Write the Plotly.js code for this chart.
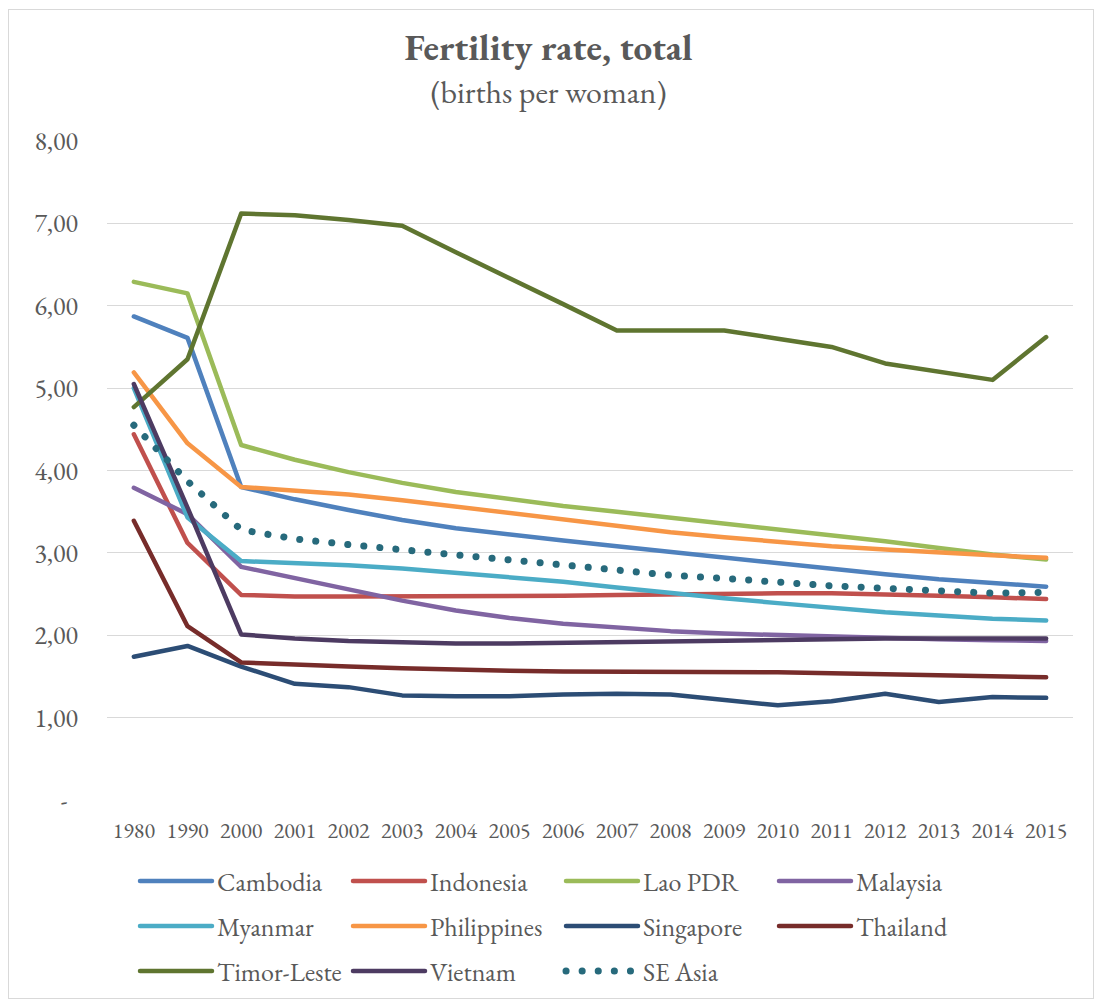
<!DOCTYPE html>
<html>
<head>
<meta charset="utf-8">
<script src="https://cdn.plot.ly/plotly-3.0.1.min.js"></script>
<style>
  html, body { margin: 0; padding: 0; background: #ffffff; }
  #frame { position: absolute; left: 8px; top: 9px; width: 1086px; height: 990px; border: 1px solid #d9d9d9; box-sizing: border-box; }
  #chart { position: absolute; left: 0; top: 0; width: 1097px; height: 1001px; }
  .js-line, .legendlines path { stroke-linecap: round; stroke-linejoin: round; }
</style>
</head>
<body>
<div id="frame"></div>
<div id="chart"></div>
<script>
// Years on the category axis
const years = ['1980','1990','2000','2001','2002','2003','2004','2005','2006','2007','2008','2009','2010','2011','2012','2013','2014','2015'];

// Total fertility rate (births per woman)
const cambodia    = [5.87,5.61,3.80,3.65,3.52,3.40,3.30,3.22,3.15,3.08,3.01,2.94,2.87,2.80,2.74,2.68,2.63,2.59];
const indonesia   = [4.44,3.12,2.49,2.47,2.47,2.47,2.47,2.48,2.48,2.49,2.50,2.51,2.51,2.51,2.50,2.48,2.46,2.44];
const laoPDR      = [6.29,6.15,4.31,4.13,3.98,3.85,3.74,3.65,3.57,3.50,3.43,3.36,3.29,3.21,3.14,3.06,2.98,2.92];
const malaysia    = [3.79,3.47,2.83,2.69,2.55,2.42,2.30,2.21,2.14,2.09,2.05,2.02,2.00,1.98,1.96,1.95,1.94,1.93];
const myanmar     = [5.00,3.43,2.90,2.88,2.85,2.81,2.76,2.71,2.65,2.58,2.51,2.45,2.39,2.33,2.28,2.24,2.20,2.18];
const philippines = [5.19,4.33,3.80,3.76,3.71,3.64,3.56,3.48,3.40,3.32,3.25,3.19,3.13,3.08,3.04,3.00,2.97,2.94];
const singapore   = [1.74,1.87,1.62,1.41,1.37,1.27,1.26,1.26,1.28,1.29,1.28,1.22,1.15,1.20,1.29,1.19,1.25,1.24];
const thailand    = [3.39,2.11,1.67,1.64,1.62,1.60,1.58,1.57,1.56,1.56,1.55,1.55,1.55,1.54,1.53,1.52,1.51,1.49];
const timorLeste  = [4.77,5.35,7.12,7.10,7.04,6.97,6.65,6.34,6.02,5.70,5.70,5.70,5.60,5.50,5.30,5.20,5.10,5.62];
const vietnam     = [5.05,3.55,2.01,1.96,1.93,1.91,1.90,1.90,1.91,1.92,1.93,1.94,1.95,1.96,1.96,1.96,1.96,1.96];
const seAsia      = [4.55,3.87,3.28,3.17,3.10,3.04,2.97,2.90,2.84,2.78,2.73,2.69,2.64,2.60,2.57,2.53,2.51,2.52];

// Y axis tick labels
const yTickVals = [0,1,2,3,4,5,6,7,8];
const yTickText = ['-\u00a0\u00a0','1,00','2,00','3,00','4,00','5,00','6,00','7,00','8,00'];

const FONT = 'Garamond, "EB Garamond", "Liberation Serif", "DejaVu Serif", serif';
const GREY = '#595959';

const seriesDefs = [
  { name: 'Cambodia',    y: cambodia,    color: '#4F81BD', legend: 'legend'  },
  { name: 'Indonesia',   y: indonesia,   color: '#C0504D', legend: 'legend'  },
  { name: 'Lao PDR',     y: laoPDR,      color: '#9BBB59', legend: 'legend'  },
  { name: 'Malaysia',    y: malaysia,    color: '#8064A2', legend: 'legend'  },
  { name: 'Myanmar',     y: myanmar,     color: '#4BACC6', legend: 'legend2' },
  { name: 'Philippines', y: philippines, color: '#F79646', legend: 'legend2' },
  { name: 'Singapore',   y: singapore,   color: '#2C4D75', legend: 'legend2' },
  { name: 'Thailand',    y: thailand,    color: '#772C2A', legend: 'legend2' },
  { name: 'Timor-Leste', y: timorLeste,  color: '#5F7530', legend: 'legend3' },
  { name: 'Vietnam',     y: vietnam,     color: '#4D3B62', legend: 'legend3' },
  { name: 'SE Asia',     y: seAsia,      color: '#276A7C', legend: 'legend3', dash: '0.1px,16px' }
];

const traces = seriesDefs.map(s => ({
  type: 'scatter',
  mode: 'lines',
  x: years,
  y: s.y,
  name: s.name,
  legend: s.legend,
  line: { color: s.color, width: s.dash ? 7 : 4.5, dash: s.dash || 'solid' },
  hoverinfo: 'x+y+name'
}));

// One legend per row, placed in container coordinates
function legendRow(yPx) {
  return {
    orientation: 'h',
    xref: 'container', x: 135 / 1097, xanchor: 'left',
    yref: 'container', y: (1001 - yPx) / 1001, yanchor: 'middle',
    entrywidth: 126, entrywidthmode: 'pixels',
    itemwidth: 72,
    font: { family: FONT, size: 26, color: GREY },
    bgcolor: 'rgba(0,0,0,0)',
    traceorder: 'normal'
  };
}

const layout = {
  width: 1097,
  height: 1001,
  paper_bgcolor: 'rgba(0,0,0,0)',
  plot_bgcolor: 'rgba(0,0,0,0)',
  margin: { l: 107, r: 24, t: 141, b: 201 },
  font: { family: FONT, color: GREY },
  title: {
    text: '<span style="font-size:37px"><b>Fertility rate, total</b></span><br><span style="font-size:32px">(births per woman)</span>',
    font: { family: FONT, size: 33, color: GREY },
    x: 0.5, xanchor: 'center',
    y: 1 - 60 / 1001, yanchor: 'top', yref: 'container'
  },
  xaxis: {
    type: 'category',
    range: [-0.5, 17.5],
    showgrid: false,
    zeroline: false,
    showline: false,
    ticks: '',
    tickfont: { family: FONT, size: 22, color: GREY },
    ticklabelstandoff: 15
  },
  yaxis: {
    range: [0, 8],
    tickvals: yTickVals,
    ticktext: yTickText,
    showgrid: true,
    gridcolor: '#d9d9d9',
    gridwidth: 1,
    zeroline: false,
    showline: false,
    ticks: '',
    tickfont: { family: FONT, size: 26, color: GREY },
    ticklabelstandoff: 28
  },
  legend: legendRow(881),
  legend2: legendRow(926),
  legend3: legendRow(971),
  showlegend: true
};

Plotly.newPlot('chart', traces, layout, { displayModeBar: false, responsive: false });
</script>
</body>
</html>
